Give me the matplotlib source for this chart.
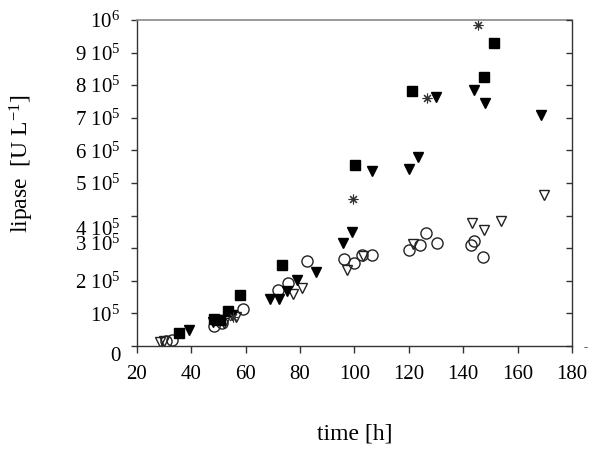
import numpy as np
import matplotlib
matplotlib.use('Agg')
import matplotlib.pyplot as plt
from matplotlib import transforms

plt.rcParams['font.family'] = ['Liberation Serif', 'DejaVu Serif']
plt.rcParams['mathtext.fontset'] = 'custom'
plt.rcParams['mathtext.rm'] = 'Liberation Serif'
plt.rcParams['mathtext.it'] = 'Liberation Serif'

# filled squares
sq_t = [35.5, 48.5, 50.5, 53.6, 57.9, 73.5, 100.2, 121.1, 147.7, 151.4]
sq_y = [40e3, 82e3, 80e3, 108e3, 156e3, 248e3, 555e3, 782e3, 826e3, 930e3]

# filled down triangles
ftri_t = [39.1, 47.9, 50.5, 55.0, 69.0, 72.3, 75.1, 78.8, 85.8, 95.9, 99.2,
          106.4, 119.9, 123.2, 130.0, 144.0, 148.1, 168.6]
ftri_y = [49e3, 75e3, 80e3, 95e3, 143e3, 143e3, 170e3, 202e3, 228e3, 317e3, 350e3,
          537e3, 542e3, 579e3, 763e3, 785e3, 746e3, 709e3]

# asterisks
star_t = [55.5, 99.6, 126.6, 145.3]
star_y = [90e3, 450e3, 762e3, 985e3]

# open circles
circ_t = [30.5, 32.8, 48.3, 51.3, 59.0, 72.0, 75.5, 82.4, 96.3, 99.9, 102.7,
          106.4, 119.9, 124.2, 126.3, 130.3, 142.9, 144.0, 147.1]
circ_y = [15e3, 18e3, 61e3, 70e3, 113e3, 172e3, 192e3, 262e3, 266e3, 254e3, 279e3,
          279e3, 294e3, 310e3, 348e3, 315e3, 310e3, 323e3, 274e3]

# open down triangles
otri_t = [28.5, 30.0, 52.0, 56.5, 77.5, 80.8, 97.4, 103.3, 121.5, 143.4, 147.5, 154.0, 169.6]
otri_y = [12e3, 15e3, 72e3, 88e3, 160e3, 177e3, 233e3, 276e3, 312e3, 378e3, 356e3, 383e3, 463e3]

xticks = [20, 40, 60, 80, 100, 120, 140, 160, 180]
yticks = [0, 1e5, 2e5, 3e5, 4e5, 5e5, 6e5, 7e5, 8e5, 9e5, 1e6]
ylabels = ['0', '$10^5$', '$2\\ 10^5$', '$3\\ 10^5$', '$4\\ 10^5$', '$5\\ 10^5$',
           '$6\\ 10^5$', '$7\\ 10^5$', '$8\\ 10^5$', '$9\\ 10^5$', '$10^6$']

fig = plt.figure(figsize=(6, 4.51), dpi=100)
ax = fig.add_axes([0.2283, 0.2328, 0.725, 0.7229])

ax.plot(circ_t, circ_y, 'o', ms=8, mfc='none', mec='#222222', mew=1)
ax.plot(otri_t, otri_y, 'v', ms=7, mfc='none', mec='#222222', mew=1)
ax.plot(sq_t, sq_y, 's', ms=7, color='black')
ax.plot(ftri_t, ftri_y, 'v', ms=7, color='black')
ax.plot(star_t, star_y, marker=(8, 2, 0), ls='none', ms=7, mec='#333333', mew=0.8)

ax.set_xlim(20, 180)
ax.set_ylim(0, 1e6)
ax.set_xticks(xticks)
ax.set_yticks(yticks)
ax.set_yticklabels(ylabels)
ax.tick_params(axis='x', direction='out', length=5, width=1, pad=9, labelsize=15, color='#333333')
ax.tick_params(axis='y', direction='out', length=4, width=1, pad=8, labelsize=15, color='#333333')

# a few labels sit off their ticks in the original
ylab = ax.get_yticklabels()
shifts = {0: -6, 3: 4, 4: -9}
for i, dy in shifts.items():
    ylab[i].set_transform(ylab[i].get_transform() +
                          transforms.ScaledTranslation(0, dy / 72.0, fig.dpi_scale_trans))

for s in ['left', 'bottom', 'right']:
    ax.spines[s].set_color('#333333')
    ax.spines[s].set_linewidth(1)
ax.spines['top'].set_color('#888888')
ax.spines['top'].set_linewidth(1.2)

ax2 = ax.twinx()
ax2.set_ylim(0, 1e6)
ax2.set_yticks(yticks)
ax2.tick_params(axis='y', direction='in', length=4, width=1, labelright=False, color='#333333')
for s in ax2.spines.values():
    s.set_visible(False)

ax.set_xlabel('time [h]', fontsize=17, labelpad=28)
ax.set_ylabel('lipase  [U L$^{-1}$]', fontsize=17)
ax.yaxis.set_label_coords(-0.232, 0.56)
fig.text(0.972, 0.222, '-', fontsize=9, color='#555555')

fig.savefig('out.png', dpi=100)
